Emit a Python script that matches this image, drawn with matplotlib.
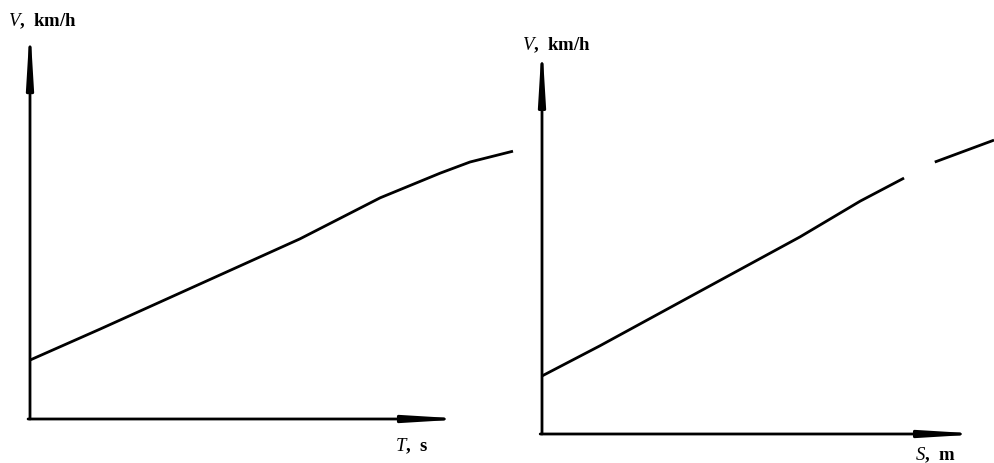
import numpy as np
import matplotlib.pyplot as plt

# left chart: speed vs time (schematic, relative units 0-100)
t_vals = [0, 14.5, 35.2, 55.9, 72.5, 84.9, 91.1, 100]
v_t = [15.8, 24.1, 36.2, 48.3, 59.3, 65.9, 68.9, 71.8]

# right chart: speed vs distance (gap in the printed line kept as NaN)
s_vals = [0, 12.8, 35.0, 57.1, 70.4, 80.1, 80.2, 86.9, 100]
v_s = [15.6, 23.7, 38.4, 53.0, 62.6, 68.8, np.nan, 73.1, 79.0]

xlabels = ["$T$,  s", "$S$,  m"]
ylabel = "$V$,  km/h"

plt.rcParams['font.family'] = ['Liberation Serif', 'DejaVu Serif']
plt.rcParams['mathtext.fontset'] = 'custom'
plt.rcParams['mathtext.it'] = 'Liberation Serif:italic'
plt.rcParams['mathtext.rm'] = 'Liberation Serif'

W, H = 994, 464
fig = plt.figure(figsize=(W / 100, H / 100), dpi=100)

# axes boxes in pixels: left, bottom, width, height
boxes = [(30, 44, 483, 373), (542, 29, 452, 372)]
xtips = [90.5, 97.6]
ytips = [105.9, 105.7]
xs_all = [t_vals, s_vals]
ys_all = [v_t, v_s]

for i, (l, b, w, h) in enumerate(boxes):
    ax = fig.add_axes([l / W, b / H, w / W, h / H])
    ax.set_xlim(0, 100)
    ax.set_ylim(0, 100)
    ax.axis("off")
    ax.plot(xs_all[i], ys_all[i], color="black", lw=2.0, clip_on=False,
            solid_capstyle="butt", solid_joinstyle="round")
    arrow = dict(arrowstyle="-|>,head_length=3.3,head_width=0.2",
                 color="black", lw=2.0, mutation_scale=10,
                 shrinkA=0, shrinkB=0)
    ax.annotate("", xy=(0, ytips[i]), xytext=(0, 0), xycoords="data",
                arrowprops=arrow, annotation_clip=False)
    ax.annotate("", xy=(xtips[i], 0), xytext=(-0.4, 0), xycoords="data",
                arrowprops=arrow, annotation_clip=False)

fs = 13.5
fig.text(8 / W, 1 - 21 / H, ylabel, fontsize=fs, fontweight="bold",
         va="center", ha="left")
fig.text(522 / W, 1 - 45 / H, ylabel, fontsize=fs, fontweight="bold",
         va="center", ha="left")
fig.text(395 / W, 1 - 446 / H, xlabels[0], fontsize=fs, fontweight="bold",
         va="center", ha="left")
fig.text(915 / W, 1 - 455 / H, xlabels[1], fontsize=fs, fontweight="bold",
         va="center", ha="left")

fig.savefig("out.png", dpi=100, facecolor="white")
